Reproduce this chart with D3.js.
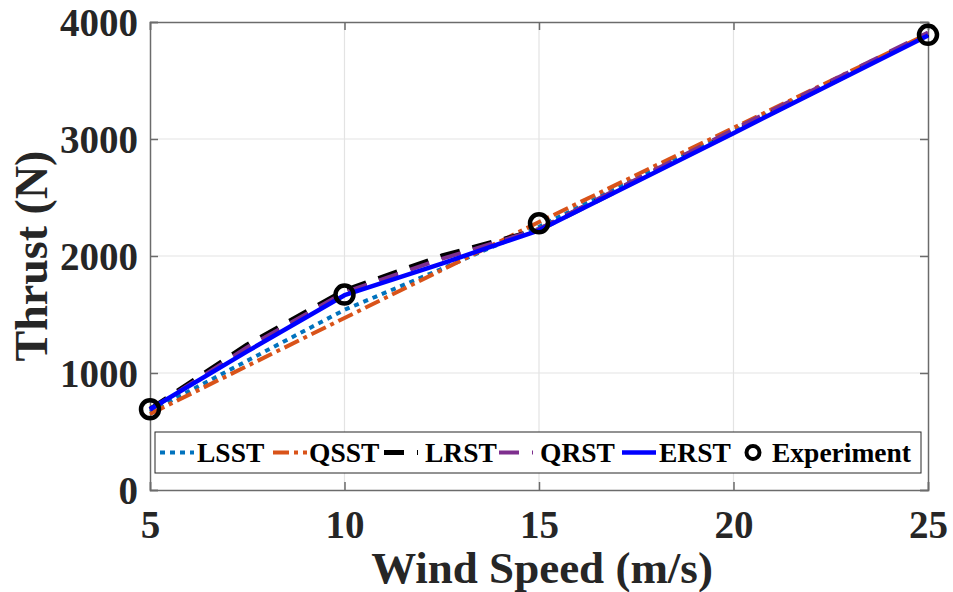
<!DOCTYPE html>
<html><head><meta charset="utf-8">
<script src="https://cdn.jsdelivr.net/npm/d3@7"></script>
<style>body{margin:0;background:#fff}svg{display:block}</style>
</head><body>
<svg id="c" width="953" height="592"></svg>
<script>
const windSpeeds = [5, 7.5, 10, 12.5, 15, 20, 25];
const LSST = [670, 1105, 1540, 1890, 2250, 3070, 3890];
const QSST = [650, 1060, 1470, 1880, 2290, 3095, 3900];
const LRST = [690, 1240, 1705, 2000, 2225, 3060, 3895];
const QRST = [685, 1220, 1690, 1975, 2230, 3080, 3910];
const ERST = [690, 1185, 1665, 1935, 2220, 3050, 3885];
const expSpeeds = [5, 10, 15, 25];
const expThrust = [690, 1670, 2280, 3890];
const xTicks = [5, 10, 15, 20, 25];
const yTicks = [0, 1000, 2000, 3000, 4000];
const seriesNames = ["LSST", "QSST", "LRST", "QRST", "ERST"];

const styles = {
  LSST: {color: "#0072BD", width: 4, dash: "5,5"},
  QSST: {color: "#D95319", width: 4, dash: "16,5,4,5"},
  LRST: {color: "#000000", width: 5, dash: "20,13"},
  QRST: {color: "#7E2F8E", width: 4, dash: "20,13"},
  ERST: {color: "#0000FF", width: 4.5, dash: null}
};
const dataBy = {LSST, QSST, LRST, QRST, ERST};

const svg = d3.select("#c");
const L = 150, R = 928, T = 22, B = 490;
const x = d3.scaleLinear().domain([5, 25]).range([L, R]);
const y = d3.scaleLinear().domain([0, 4000]).range([B, T]);
const font = "'Liberation Serif', 'Times New Roman', serif";

// grid
const g = svg.append("g");
g.selectAll(".gx").data(xTicks.slice(1, -1)).enter().append("line")
  .attr("x1", d => x(d)).attr("x2", d => x(d)).attr("y1", T).attr("y2", B)
  .attr("stroke", "#e3e3e3").attr("stroke-width", 1.2);
g.selectAll(".gy").data(yTicks.slice(1, -1)).enter().append("line")
  .attr("y1", d => y(d)).attr("y2", d => y(d)).attr("x1", L).attr("x2", R)
  .attr("stroke", "#e3e3e3").attr("stroke-width", 1.2);

// axes with inward ticks
const axCol = "#6b6b6b";
const xb = svg.append("g").attr("transform", `translate(0,${B})`)
  .call(d3.axisBottom(x).tickValues(xTicks).tickSize(-8).tickPadding(20).tickFormat(d3.format("d")));
const xt = svg.append("g").attr("transform", `translate(0,${T})`)
  .call(d3.axisTop(x).tickValues(xTicks).tickSize(-8).tickFormat(""));
const yl = svg.append("g").attr("transform", `translate(${L},0)`)
  .call(d3.axisLeft(y).tickValues(yTicks).tickSize(-8).tickPadding(12).tickFormat(d3.format("d")));
const yr = svg.append("g").attr("transform", `translate(${R},0)`)
  .call(d3.axisRight(y).tickValues(yTicks).tickSize(-8).tickFormat(""));
[xb, xt, yl, yr].forEach(a => {
  a.select(".domain").attr("stroke", axCol).attr("stroke-width", 1.5);
  a.selectAll(".tick line").attr("stroke", axCol).attr("stroke-width", 1.5);
  a.selectAll(".tick text").attr("fill", "#262626").style("font-family", font)
    .style("font-weight", "bold").style("font-size", "39px");
});
xb.selectAll(".tick text").attr("dy", "0.71em");
yl.selectAll(".tick text").attr("dy", "0.34em");

// lines
const line = d3.line().x((d, i) => x(windSpeeds[i])).y(d => y(d));
seriesNames.forEach(n => {
  const s = styles[n];
  svg.append("path").datum(dataBy[n]).attr("d", line)
    .attr("fill", "none").attr("stroke", s.color).attr("stroke-width", s.width)
    .attr("stroke-dasharray", s.dash).attr("stroke-linejoin", "round");
});

// experiment markers
svg.selectAll(".exp").data(expThrust).enter().append("circle")
  .attr("cx", (d, i) => x(expSpeeds[i])).attr("cy", d => y(d)).attr("r", 9)
  .attr("fill", "none").attr("stroke", "#000").attr("stroke-width", 4.5);

// axis titles
svg.append("text").attr("x", (L + R) / 2 + 3).attr("y", 583).attr("text-anchor", "middle")
  .style("font-family", font).style("font-weight", "bold").style("font-size", "45px")
  .attr("fill", "#262626").text("Wind Speed (m/s)");
svg.append("text").attr("transform", `translate(47,${(T + B) / 2}) rotate(-90)`)
  .attr("text-anchor", "middle")
  .style("font-family", font).style("font-weight", "bold").style("font-size", "46px")
  .attr("fill", "#262626").text("Thrust (N)");

// legend
const lg = svg.append("g");
lg.append("rect").attr("x", 155).attr("y", 432).attr("width", 766).attr("height", 41)
  .attr("fill", "#fff").attr("stroke", "#262626").attr("stroke-width", 1);
const items = seriesNames.map(n => ({name: n, s: styles[n]}));
items.push({name: "Experiment", s: null});
const legX = [160, 273, 384, 499, 622, 744];
const textX = [197, 309, 425, 540, 659, 772];
items.forEach((it, i) => {
  const cy = 452.5;
  if (it.s) {
    lg.append("line").attr("x1", legX[i]).attr("x2", legX[i] + 34).attr("y1", cy).attr("y2", cy)
      .attr("stroke", it.s.color).attr("stroke-width", it.s.width).attr("stroke-dasharray", it.s.dash);
  } else {
    lg.append("circle").attr("cx", legX[i] + 9).attr("cy", cy).attr("r", 6.5)
      .attr("fill", "none").attr("stroke", "#000").attr("stroke-width", 4);
  }
  lg.append("text").attr("x", textX[i]).attr("y", cy).attr("dy", "0.35em")
    .style("font-family", font).style("font-weight", "bold").style("font-size", "27.5px")
    .attr("fill", "#000").text(it.name);
});
</script>
</body></html>
